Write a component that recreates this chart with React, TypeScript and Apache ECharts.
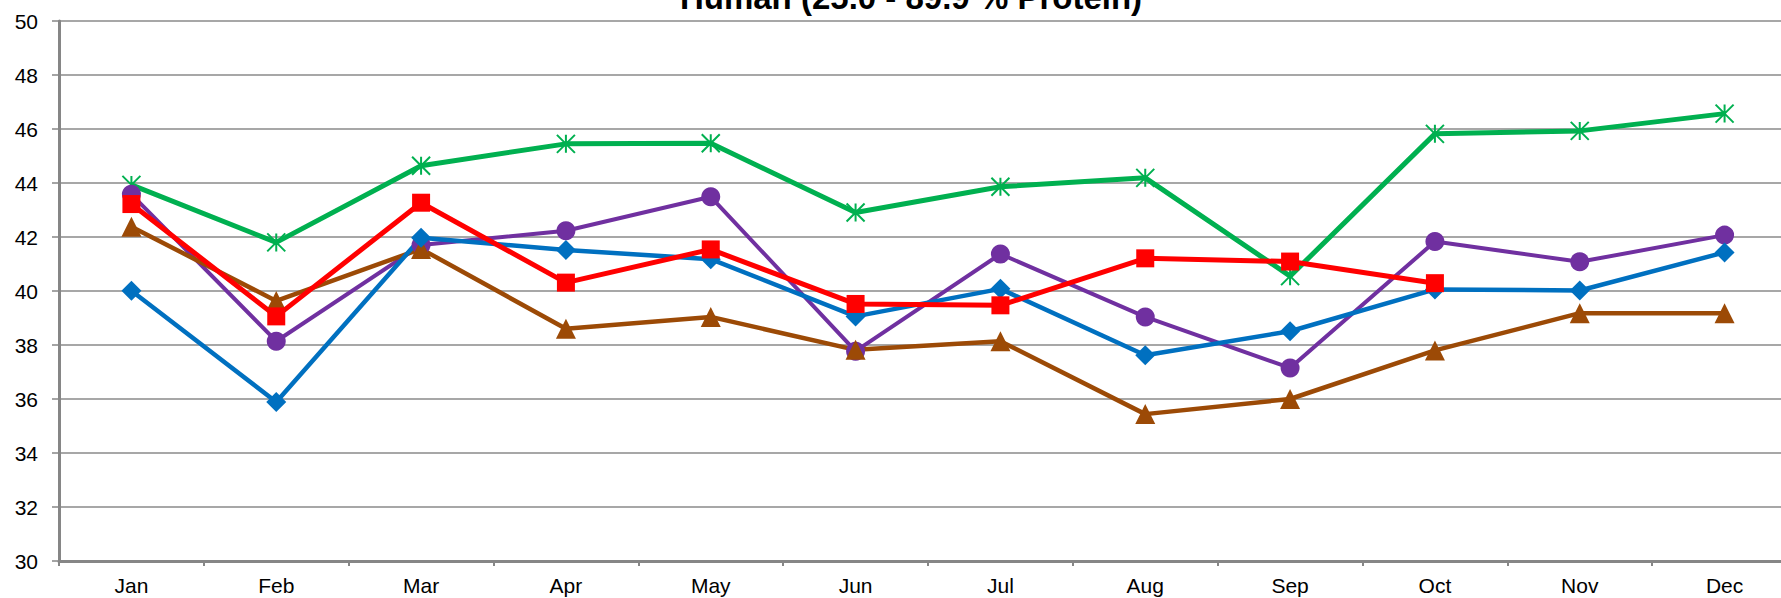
import React, { useEffect, useRef } from "react";
import * as echarts from "echarts";

const months = ["Jan", "Feb", "Mar", "Apr", "May", "Jun", "Jul", "Aug", "Sep", "Oct", "Nov", "Dec"];
const blueValues = [40.01, 35.89, 41.97, 41.52, 41.18, 39.06, 40.08, 37.62, 38.51, 40.06, 40.02, 41.43];
const redValues = [43.22, 39.06, 43.27, 40.31, 41.54, 39.52, 39.47, 41.21, 41.09, 40.29, null, null];
const purpleValues = [43.58, 38.14, 41.7, 42.23, 43.49, 37.77, 41.37, 39.04, 37.15, 41.83, 41.08, 42.07];
const brownValues = [42.38, 39.63, 41.56, 38.6, 39.04, 37.82, 38.14, 35.44, 36.0, 37.8, 39.18, 39.18];
const greenValues = [43.93, 41.8, 44.64, 45.45, 45.47, 42.91, 43.86, 44.19, 40.55, 45.82, 45.93, 46.57];
const yTicks = { min: 30, max: 50, interval: 2 };
const titleText = "Human (25.0 - 89.9 % Protein)";

const FONT = "'Liberation Sans', Arial, sans-serif";
const AXIS_GRAY = "#868686";

export default function App() {
  const ref = useRef<HTMLDivElement>(null);
  useEffect(() => {
    if (!ref.current) return;
    const chart = echarts.init(ref.current, undefined, { renderer: "svg" });
    const mk = (name: string, data: (number | null)[], color: string, width: number, symbol: string, size: number, extra: any = {}) => ({
      name,
      type: "line",
      data,
      symbol,
      symbolSize: size,
      showSymbol: true,
      connectNulls: false,
      lineStyle: { color, width },
      itemStyle: { color, ...extra },
      emphasis: { disabled: true },
    });
    chart.setOption({
      animation: false,
      backgroundColor: "#ffffff",
      title: {
        text: titleText,
        left: 906,
        top: -24,
        textAlign: "center",
        textStyle: { fontFamily: FONT, fontSize: 33, fontWeight: "bold", color: "#000" },
      },
      grid: { left: 59, top: 21, width: 1738, height: 540, containLabel: false, outerBoundsMode: "none" },
      xAxis: {
        type: "category",
        data: months,
        boundaryGap: true,
        axisLine: { lineStyle: { color: AXIS_GRAY, width: 3 } },
        axisTick: { show: true, length: 5, lineStyle: { color: AXIS_GRAY, width: 2 } },
        axisLabel: { fontFamily: FONT, fontSize: 21, color: "#000", margin: 14 },
        splitLine: { show: false },
      },
      yAxis: {
        type: "value",
        min: yTicks.min,
        max: yTicks.max,
        interval: yTicks.interval,
        axisLine: { show: true, lineStyle: { color: AXIS_GRAY, width: 3 } },
        axisTick: { show: true, length: 7, lineStyle: { color: AXIS_GRAY, width: 1.5 } },
        axisLabel: { fontFamily: FONT, fontSize: 21, color: "#000", margin: 21 },
        splitLine: { show: true, lineStyle: { color: "#8a8a8a", width: 1.5 } },
      },
      series: [
        mk("Green", greenValues, "#00B050", 5, "path://M0,0 L10,10 M10,0 L0,10 M5,0 L5,10", 18, { borderColor: "#00B050", borderWidth: 2 }),
        mk("Purple", purpleValues, "#7030A0", 4, "circle", 19),
        mk("Brown", brownValues, "#9C4A06", 4.5, "triangle", 20),
        mk("Blue", blueValues, "#0070C0", 4.5, "diamond", 20),
        mk("Red", redValues, "#FF0000", 5, "rect", 18),
      ],
    });
    return () => chart.dispose();
  }, []);
  return <div ref={ref} style={{ position: "fixed", left: 0, top: 0, width: 1781, height: 598, background: "#fff" }} />;
}
